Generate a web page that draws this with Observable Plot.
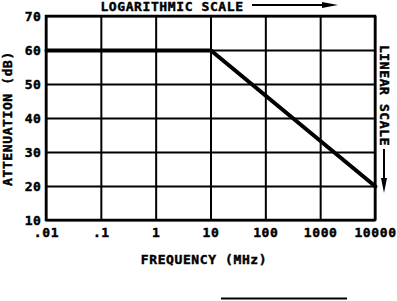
<!DOCTYPE html>
<html>
<head>
<meta charset="utf-8">
<script src="https://cdn.jsdelivr.net/npm/d3@7"></script>
<script src="https://cdn.jsdelivr.net/npm/@observablehq/plot@0.6"></script>
<style>
  html, body { margin: 0; padding: 0; background: #fff; }
  svg text { letter-spacing: 0.6px; stroke: #000; stroke-width: 0.45px; }
</style>
</head>
<body>
<div id="chart"></div>
<script>
const freqTicks = [0.01, 0.1, 1, 10, 100, 1000, 10000];
const freqLabels = [".01", ".1", "1", "10", "100", "1000", "10000"];
const attenTicks = [10, 20, 30, 40, 50, 60, 70];
const curveFreq = [0.01, 10, 10000];
const curveAtten = [60, 60, 20];
const xTitle = "FREQUENCY (MHz)";
const yTitle = "ATTENUATION (dB)";
const topNote = "LOGARITHMIC SCALE";
const rightNote = "LINEAR SCALE";

const curve = curveFreq.map((f, i) => ({f, a: curveAtten[i]}));
const font = "DejaVu Sans Mono";
const fs = 13;

const chart = Plot.plot({
  width: 397,
  height: 301,
  marginLeft: 46,
  marginRight: 22,
  marginTop: 16,
  marginBottom: 81,
  style: {fontFamily: font, fontWeight: "bold", fontSize: fs + "px", background: "#fff", color: "#000", overflow: "visible"},
  x: {type: "log", domain: [0.01, 10000]},
  y: {domain: [10, 70]},
  marks: [
    Plot.ruleX(freqTicks, {stroke: "#000", strokeWidth: 2}),
    Plot.ruleY(attenTicks, {stroke: "#000", strokeWidth: 2}),
    Plot.line(curve, {x: "f", y: "a", stroke: "#000", strokeWidth: 4, strokeLinejoin: "miter"}),
    Plot.axisX({ticks: freqTicks, tickFormat: d => freqLabels[freqTicks.indexOf(d)], tickSize: 0, tickPadding: 7, label: null, fontSize: fs, fontWeight: "bold"}),
    Plot.axisY({ticks: attenTicks, tickSize: 0, tickPadding: 5, label: null, fontSize: fs, fontWeight: "bold"}),
    Plot.text([xTitle], {frameAnchor: "bottom", dy: 39, dx: -7, lineAnchor: "middle", textAnchor: "middle", text: d => d, fontSize: fs, fontWeight: "bold"}),
    Plot.text([yTitle], {frameAnchor: "left", dx: -39, dy: 0, rotate: -90, lineAnchor: "middle", textAnchor: "middle", text: d => d, fontSize: fs, fontWeight: "bold"}),
    Plot.text([topNote], {frameAnchor: "top", dx: -39, dy: -10, lineAnchor: "middle", textAnchor: "middle", text: d => d, fontSize: fs, fontWeight: "bold"}),
    Plot.text([rightNote], {frameAnchor: "top-right", dx: 9, dy: 79, rotate: 90, lineAnchor: "middle", textAnchor: "middle", text: d => d, fontSize: fs, fontWeight: "bold"})
  ]
});

const svg = d3.select(chart);
// top arrow
svg.append("line").attr("x1", 252).attr("y1", 5).attr("x2", 328).attr("y2", 5).attr("stroke", "#000").attr("stroke-width", 2);
svg.append("path").attr("d", "M322,2 L338,5 L322,8 Z").attr("fill", "#000");
// right arrow
svg.append("line").attr("x1", 384).attr("y1", 149).attr("x2", 384).attr("y2", 184).attr("stroke", "#000").attr("stroke-width", 2);
svg.append("path").attr("d", "M381,178 L384,193 L387,178 Z").attr("fill", "#000");
// frame
svg.append("rect").attr("x", 46).attr("y", 16).attr("width", 329).attr("height", 204).attr("fill", "none").attr("stroke", "#000").attr("stroke-width", 2.5);
// bottom rule
svg.append("line").attr("x1", 221).attr("y1", 298.5).attr("x2", 347).attr("y2", 298.5).attr("stroke", "#000").attr("stroke-width", 2);

document.getElementById("chart").appendChild(chart);
</script>
</body>
</html>
